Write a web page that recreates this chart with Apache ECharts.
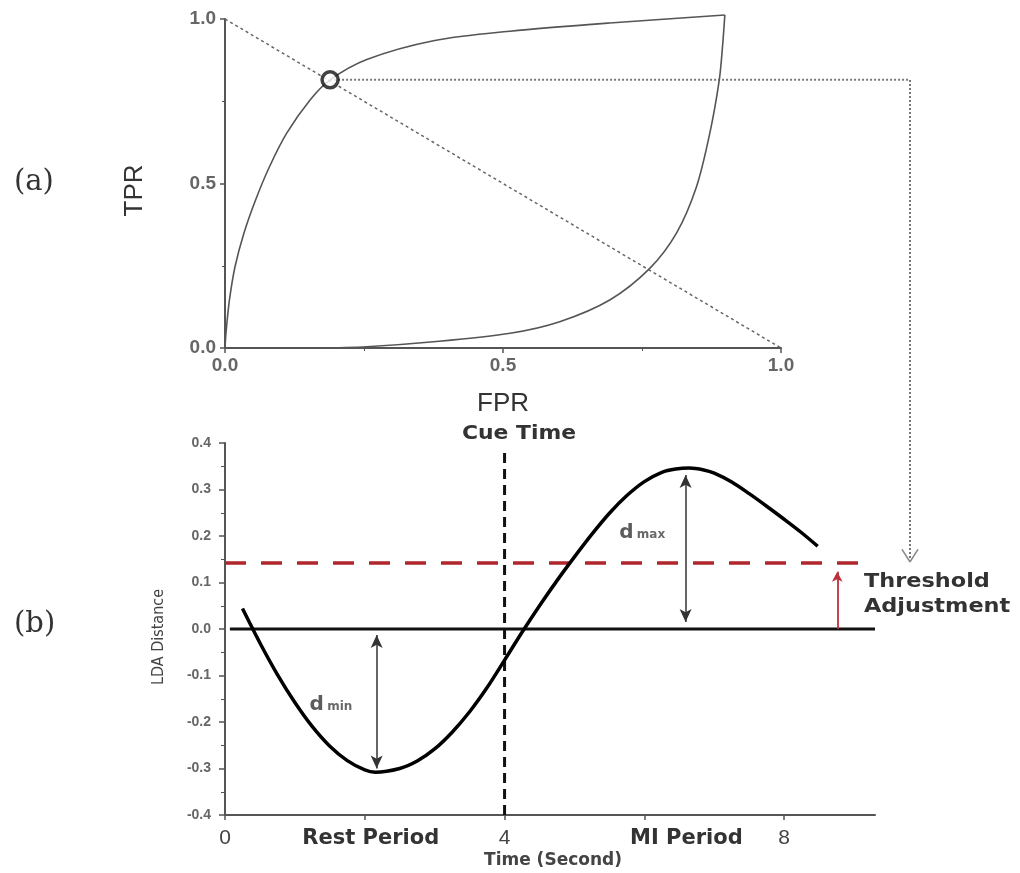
<!DOCTYPE html>
<html>
<head>
<meta charset="utf-8">
<script src="https://cdn.jsdelivr.net/npm/echarts@6/dist/echarts.min.js"></script>
<style>html,body{margin:0;padding:0;background:#fff}#c{width:1020px;height:873px}</style>
</head>
<body>
<div id="c"></div>
<script>
// ---------- data (a) ROC ----------
const rocUpperFPR = [0, 0.002, 0.008, 0.018, 0.034, 0.055, 0.080, 0.111, 0.153, 0.189, 0.255, 0.375, 0.513, 0.692, 0.899];
const rocUpperTPR = [0, 0.050, 0.146, 0.247, 0.349, 0.450, 0.551, 0.653, 0.754, 0.815, 0.877, 0.934, 0.963, 0.988, 1.012];
const rocLowerFPR = [0.899, 0.895, 0.889, 0.872, 0.848, 0.812, 0.764, 0.692, 0.602, 0.513, 0.375, 0.255, 0.16];
const rocLowerTPR = [1.012, 0.920, 0.815, 0.653, 0.490, 0.349, 0.242, 0.146, 0.080, 0.045, 0.019, 0.004, 0];
const diagFPR = [0, 1];
const diagTPR = [1, 0];
const opPoint = [0.189, 0.815];
const connectorFPR = [0.189, 1.232, 1.232];
const connectorTPR = [0.815, 0.815, -0.645];
const chevronFPR = [1.2176, 1.232, 1.2464];
const chevronTPR = [-0.612, -0.650, -0.612];

// ---------- data (b) LDA ----------
const timeSec = [0.25, 0.5, 0.75, 1.0, 1.25, 1.5, 1.75, 2.0, 2.15, 2.5, 2.75, 3.0, 3.25, 3.5, 3.75, 4.0, 4.25, 4.5, 4.75, 5.0, 5.25, 5.5, 5.75, 6.0, 6.25, 6.45, 6.64, 6.85, 7.0, 7.25, 7.5, 7.75, 8.0, 8.25, 8.48];
const ldaDist = [0.044, -0.030, -0.098, -0.158, -0.210, -0.252, -0.283, -0.303, -0.308, -0.300, -0.284, -0.258, -0.222, -0.178, -0.126, -0.067, -0.007, 0.050, 0.104, 0.155, 0.204, 0.249, 0.287, 0.317, 0.337, 0.344, 0.346, 0.342, 0.335, 0.316, 0.291, 0.264, 0.236, 0.207, 0.178];
const zeroLineX = [0.07, 9.3];
const thresholdX = [0, 9.16];
const threshold = 0.142;
const cueTime = 4;
const cueRange = [-0.4, 0.385];
const dMinX = 2.17, dMinRange = [-0.013, -0.300];
const dMaxX = 6.59, dMaxRange = [0.331, 0.015];
const adjX = 8.76, adjRange = [0.0, 0.123];
const dMinLabelAt = [1.21, -0.163];
const dMaxLabelAt = [5.64, 0.206];
const timeTickLabels = {0: '0', 2: 'Rest Period', 4: '4', 6: 'MI Period', 8: '8'};

const zip = (a, b) => a.map((v, i) => [v, b[i]]);
const axisGray = '#555';
const boldFont = "'DejaVu Sans', 'Open Sans', sans-serif";

// top grid geometry, and an overlay grid with identical scale but a larger extent
const topGrid = {left: 225, top: 19, width: 556, height: 329};
const ovX = [0, 1.3], ovY = [-0.7, 1.05];
const overlayGrid = {
  left: topGrid.left,
  top: topGrid.top - (ovY[1] - 1) * topGrid.height,
  width: (ovX[1] - ovX[0]) * topGrid.width,
  height: (ovY[1] - ovY[0]) * topGrid.height
};

const chart = echarts.init(document.getElementById('c'));

chart.setOption({
  animation: false,
  backgroundColor: '#fff',
  grid: [
    topGrid,
    {left: 225, top: 443, width: 650, height: 372},
    overlayGrid
  ],
  xAxis: [
    {
      gridIndex: 0, type: 'value', min: 0, max: 1, interval: 0.5,
      name: 'FPR', nameLocation: 'middle', nameGap: 43,
      nameTextStyle: {fontFamily: 'Liberation Sans', fontSize: 26, color: '#333'},
      axisLine: {lineStyle: {color: axisGray, width: 2}},
      axisTick: {show: true, length: 5, lineStyle: {color: axisGray, width: 1.5}},
      minorTick: {show: true, splitNumber: 2, length: 3, lineStyle: {color: axisGray}},
      axisLabel: {margin: 8, fontFamily: 'Liberation Sans', fontWeight: 'bold', fontSize: 19, color: '#666',
        formatter: v => v.toFixed(1)},
      splitLine: {show: false}
    },
    {
      gridIndex: 1, type: 'value', min: 0, max: 9.3, interval: 2,
      name: 'Time (Second)', nameLocation: 'middle', nameGap: 37,
      nameTextStyle: {fontFamily: boldFont, fontWeight: 'bold', fontSize: 17, color: '#444', padding: [0, 0, 0, 6]},
      axisLine: {onZero: false, lineStyle: {color: axisGray, width: 2}},
      axisTick: {show: true, length: 5, lineStyle: {color: axisGray, width: 1.5}},
      axisLabel: {
        margin: 13, fontFamily: 'Liberation Sans', fontSize: 21, color: '#444',
        showMaxLabel: false,
        formatter: v => {
          const k = Math.round(v);
          const t = timeTickLabels[k];
          if (t === undefined) return '';
          if (k === 2) return '{r|' + t + '}';
          if (k === 6) return '{m|' + t + '}';
          return t;
        },
        rich: {
          r: {fontFamily: boldFont, fontWeight: 'bold', fontSize: 21, color: '#333', padding: [0, 0, 0, 12]},
          m: {fontFamily: boldFont, fontWeight: 'bold', fontSize: 21, color: '#333', padding: [0, 0, 0, 84]}
        }
      },
      splitLine: {show: false}
    },
    {gridIndex: 2, type: 'value', min: ovX[0], max: ovX[1], show: false, splitLine: {show: false}}
  ],
  yAxis: [
    {
      gridIndex: 0, type: 'value', min: 0, max: 1, interval: 0.5,
      name: 'TPR', nameLocation: 'middle', nameGap: 77, nameRotate: 90,
      nameTextStyle: {fontFamily: 'Liberation Sans', fontSize: 26, color: '#333', padding: [0, 14, 0, 0]},
      axisLine: {lineStyle: {color: axisGray, width: 2}},
      axisTick: {show: true, length: 5, lineStyle: {color: axisGray, width: 1.5}},
      minorTick: {show: true, splitNumber: 2, length: 3, lineStyle: {color: axisGray}},
      axisLabel: {margin: 9, fontFamily: 'Liberation Sans', fontWeight: 'bold', fontSize: 19, color: '#666',
        formatter: v => v.toFixed(1)},
      splitLine: {show: false}
    },
    {
      gridIndex: 1, type: 'value', min: -0.4, max: 0.4, interval: 0.1,
      name: 'LDA Distance', nameLocation: 'middle', nameGap: 58, nameRotate: 90,
      nameTextStyle: {fontFamily: "'Liberation Sans Narrow', 'DejaVu Sans Condensed', 'Liberation Sans', sans-serif",
        fontSize: 16, color: '#444', padding: [0, 16, 0, 0]},
      axisLine: {onZero: false, lineStyle: {color: axisGray, width: 2}},
      axisTick: {show: true, length: 6, lineStyle: {color: axisGray, width: 1.5}},
      minorTick: {show: true, splitNumber: 2, length: 4, lineStyle: {color: axisGray}},
      axisLabel: {margin: 14, fontFamily: 'Liberation Sans', fontWeight: 'bold', fontSize: 14, color: '#666',
        formatter: v => (Math.abs(v) < 1e-9 ? 0 : v).toFixed(1)},
      splitLine: {show: false}
    },
    {gridIndex: 2, type: 'value', min: ovY[0], max: ovY[1], show: false, splitLine: {show: false}}
  ],
  graphic: [
    {type: 'text', left: 14, top: 168, style: {text: '(a)', font: '29px "DejaVu Serif"', fill: '#333'}},
    {type: 'text', left: 14, top: 610, style: {text: '(b)', font: '29px "DejaVu Serif"', fill: '#333'}},
    {type: 'text', x: 519, y: 425, scaleX: 1.15, style: {text: 'Cue Time', font: 'bold 19px ' + boldFont, fill: '#333', align: 'center'}},
    {type: 'text', x: 864, y: 569, scaleX: 1.12, style: {text: 'Threshold\nAdjustment', font: 'bold 20px ' + boldFont, lineHeight: 25, fill: '#333'}}
  ],
  series: [
    // ---- (a) ----
    {type: 'line', xAxisIndex: 0, yAxisIndex: 0, data: zip(diagFPR, diagTPR), symbol: 'none',
      lineStyle: {color: '#666', width: 1.5, type: [3, 3]}, z: 2},
    {type: 'line', xAxisIndex: 2, yAxisIndex: 2, data: zip(rocUpperFPR, rocUpperTPR), symbol: 'none', smooth: 0.3,
      lineStyle: {color: '#555', width: 1.6}, z: 3},
    {type: 'line', xAxisIndex: 2, yAxisIndex: 2, data: zip(rocLowerFPR, rocLowerTPR), symbol: 'none', smooth: 0.3,
      lineStyle: {color: '#555', width: 1.6}, z: 3},
    {type: 'line', xAxisIndex: 2, yAxisIndex: 2, data: zip(connectorFPR, connectorTPR), symbol: 'none',
      lineStyle: {color: '#777', width: 2, type: [2, 2]}, z: 2},
    {type: 'line', xAxisIndex: 2, yAxisIndex: 2, data: zip(chevronFPR, chevronTPR), symbol: 'none',
      lineStyle: {color: '#888', width: 1.6}, z: 2},
    {type: 'scatter', xAxisIndex: 0, yAxisIndex: 0, data: [opPoint], symbol: 'circle', symbolSize: 16,
      itemStyle: {color: '#fff', borderColor: '#111', borderWidth: 3.5}, z: 10},
    // ---- (b) ----
    {type: 'line', xAxisIndex: 1, yAxisIndex: 1, data: zeroLineX.map(x => [x, 0]), symbol: 'none',
      lineStyle: {color: '#111', width: 3}, z: 3},
    {type: 'line', xAxisIndex: 1, yAxisIndex: 1, data: thresholdX.map(x => [x, threshold]), symbol: 'none',
      lineStyle: {color: '#b0262e', width: 3.5, type: [21, 15]}, z: 4},
    {type: 'line', xAxisIndex: 1, yAxisIndex: 1, data: cueRange.map(y => [cueTime, y]), symbol: 'none',
      lineStyle: {color: '#111', width: 3, type: [10, 6]}, z: 4},
    {type: 'line', xAxisIndex: 1, yAxisIndex: 1, data: zip(timeSec, ldaDist), symbol: 'none', smooth: 0.3,
      lineStyle: {color: '#000', width: 3.5}, z: 5},
    {type: 'line', xAxisIndex: 1, yAxisIndex: 1, data: [], z: 6,
      markLine: {
        silent: true, animation: false, label: {show: false},
        symbol: ['arrow', 'arrow'], symbolSize: [9, 13],
        lineStyle: {color: '#333', width: 1.5, type: 'solid'},
        data: [
          [{coord: [dMinX, dMinRange[0]]}, {coord: [dMinX, dMinRange[1]]}],
          [{coord: [dMaxX, dMaxRange[0]]}, {coord: [dMaxX, dMaxRange[1]]}]
        ]
      }
    },
    {type: 'line', xAxisIndex: 1, yAxisIndex: 1, data: [], z: 6,
      markLine: {
        silent: true, animation: false, label: {show: false},
        symbol: ['none', 'arrow'], symbolSize: [8, 10],
        lineStyle: {color: '#c0303a', width: 1.8, type: 'solid'},
        data: [[{coord: [adjX, adjRange[0]]}, {coord: [adjX, adjRange[1]]}]]
      }
    },
    {type: 'scatter', xAxisIndex: 1, yAxisIndex: 1, symbolSize: 0, z: 7,
      data: [
        {value: dMinLabelAt, name: 'min'},
        {value: dMaxLabelAt, name: 'max'}
      ],
      label: {
        show: true, position: 'right', distance: 0,
        formatter: p => '{d|d} {s|' + p.name + '}',
        rich: {
          d: {fontFamily: boldFont, fontWeight: 'bold', fontSize: 20, color: '#333', verticalAlign: 'bottom'},
          s: {fontFamily: boldFont, fontWeight: 'bold', fontSize: 12, color: '#444', verticalAlign: 'bottom', padding: [0, 0, 2, 0]}
        }
      }
    }
  ]
});
</script>
</body>
</html>
